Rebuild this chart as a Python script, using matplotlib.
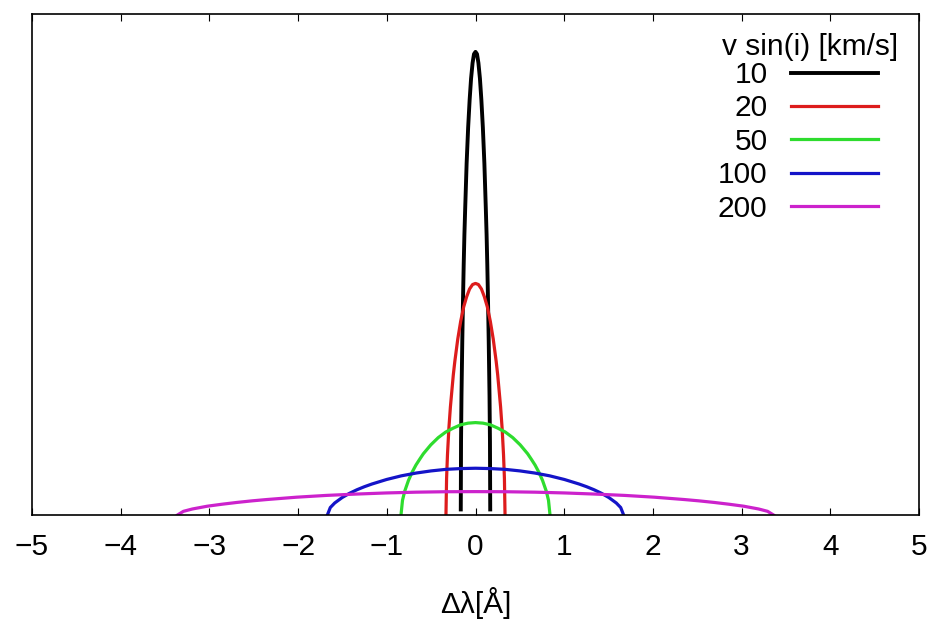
import matplotlib
matplotlib.use('Agg')
import matplotlib.pyplot as plt

plt.rcParams['font.family'] = ['Liberation Sans', 'DejaVu Sans']
plt.rcParams['axes.unicode_minus'] = True

# v sin(i) values and colours of the curves
vsini = ['10', '20', '50', '100', '200']
colors = ['#000000', '#dd1c1c', '#2edc2e', '#1414c8', '#cc22cc']

# profile points (dlambda in A, y in relative units)
x_10 = [-0.166, -0.163, -0.158, -0.149, -0.141, -0.133, -0.125, -0.116,
        -0.100, -0.083, -0.066, -0.050, -0.033, -0.017, 0.0,
        0.017, 0.033, 0.050, 0.066, 0.083, 0.100, 0.116,
        0.125, 0.133, 0.141, 0.149, 0.158, 0.163, 0.166]
y_10 = [0.05, 0.66, 1.07, 1.56, 1.93, 2.25, 2.52, 2.76,
        3.16, 3.48, 3.73, 3.92, 4.06, 4.14, 4.16,
        4.14, 4.06, 3.92, 3.73, 3.48, 3.16, 2.76,
        2.52, 2.25, 1.93, 1.56, 1.07, 0.66, 0.05]

x_20 = [-0.333, -0.326, -0.316, -0.300, -0.283, -0.266, -0.250, -0.233,
        -0.200, -0.167, -0.133, -0.100, -0.067, -0.033, 0.0,
        0.033, 0.067, 0.100, 0.133, 0.167, 0.200, 0.233,
        0.250, 0.266, 0.283, 0.300, 0.316, 0.326, 0.333]
y_20 = [0.0, 0.33, 0.54, 0.78, 0.97, 1.12, 1.26, 1.38,
        1.58, 1.74, 1.87, 1.96, 2.03, 2.07, 2.08,
        2.07, 2.03, 1.96, 1.87, 1.74, 1.58, 1.38,
        1.26, 1.12, 0.97, 0.78, 0.54, 0.33, 0.0]

x_50 = [-0.84, -0.823, -0.798, -0.756, -0.714, -0.672, -0.630, -0.588,
        -0.504, -0.420, -0.336, -0.252, -0.168, -0.084, 0.0,
        0.084, 0.168, 0.252, 0.336, 0.420, 0.504, 0.588,
        0.630, 0.672, 0.714, 0.756, 0.798, 0.823, 0.84]
y_50 = [0.0, 0.132, 0.214, 0.31, 0.385, 0.448, 0.50, 0.55,
        0.63, 0.695, 0.745, 0.78, 0.81, 0.825, 0.83,
        0.825, 0.81, 0.78, 0.745, 0.695, 0.63, 0.55,
        0.50, 0.448, 0.385, 0.31, 0.214, 0.132, 0.0]

x_100 = [-1.67, -1.637, -1.587, -1.503, -1.420, -1.336, -1.253, -1.169,
         -1.002, -0.835, -0.668, -0.501, -0.334, -0.167, 0.0,
         0.167, 0.334, 0.501, 0.668, 0.835, 1.002, 1.169,
         1.253, 1.336, 1.420, 1.503, 1.587, 1.637, 1.67]
y_100 = [0.0, 0.067, 0.108, 0.157, 0.195, 0.227, 0.254, 0.278,
         0.319, 0.352, 0.377, 0.396, 0.41, 0.417, 0.42,
         0.417, 0.41, 0.396, 0.377, 0.352, 0.319, 0.278,
         0.254, 0.227, 0.195, 0.157, 0.108, 0.067, 0.0]

x_200 = [-3.36, -3.293, -3.192, -3.024, -2.856, -2.688, -2.520, -2.352,
         -2.016, -1.680, -1.344, -1.008, -0.672, -0.336, 0.0,
         0.336, 0.672, 1.008, 1.344, 1.680, 2.016, 2.352,
         2.520, 2.688, 2.856, 3.024, 3.192, 3.293, 3.36]
y_200 = [0.0, 0.033, 0.054, 0.079, 0.097, 0.113, 0.127, 0.139,
         0.160, 0.176, 0.188, 0.198, 0.205, 0.209, 0.21,
         0.209, 0.205, 0.198, 0.188, 0.176, 0.160, 0.139,
         0.127, 0.113, 0.097, 0.079, 0.054, 0.033, 0.0]

xs = [x_10, x_20, x_50, x_100, x_200]
ys = [y_10, y_20, y_50, y_100, y_200]
xticks = [-5, -4, -3, -2, -1, 0, 1, 2, 3, 4, 5]

fig = plt.figure(figsize=(9.38, 6.24), dpi=100)
ax = fig.add_axes([32 / 938, 1 - 515 / 624, 887 / 938, 501 / 624])

for x, y, lab, c in zip(xs, ys, vsini, colors):
    lw = 2.8 if c == '#000000' else 2.3
    ax.plot(x, y, color=c, linewidth=lw, label=lab)

ax.set_xlim(-5, 5)
ax.set_ylim(0, 4.5)
ax.set_xticks(xticks)
ax.set_yticks([])
ax.tick_params(axis='x', direction='in', length=5, width=0.8, top=True,
               labelsize=21.5, pad=13)
for s in ax.spines.values():
    s.set_linewidth(1.2)

ax.set_xlabel('Δλ[Å]', fontsize=21.5, labelpad=19)

# legend title drawn on its own, gnuplot style
ax.text(0.9763, 0.934, 'v sin(i) [km/s]', transform=ax.transAxes,
        ha='right', va='center', fontsize=21.5)
ax.legend(loc='upper right', bbox_to_anchor=(0.9538, 0.906),
          borderaxespad=0, borderpad=0, frameon=False, markerfirst=False,
          fontsize=21.5, handlelength=2.9, handletextpad=0.8,
          labelspacing=0.18)

fig.savefig('out.png', dpi=100)
